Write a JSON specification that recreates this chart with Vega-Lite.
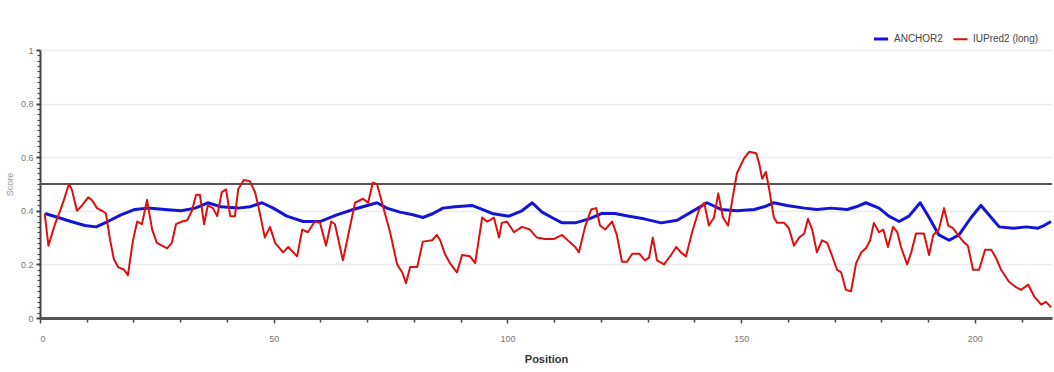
{
  "$schema": "https://vega.github.io/schema/vega-lite/v6.json",
  "width": 1012,
  "height": 268,
  "autosize": {"type": "none"},
  "padding": {"left": 40, "top": 50, "right": 2, "bottom": 54},
  "background": "white",
  "config": {
    "view": {"stroke": null},
    "font": "Liberation Sans"
  },
  "datasets": {
    "scores": [
      {"pos": 1.1, "score": 0.39, "series": "ANCHOR2"},
      {"pos": 3.9, "score": 0.375, "series": "ANCHOR2"},
      {"pos": 6.6, "score": 0.36, "series": "ANCHOR2"},
      {"pos": 9.6, "score": 0.345, "series": "ANCHOR2"},
      {"pos": 12.0, "score": 0.34, "series": "ANCHOR2"},
      {"pos": 14.5, "score": 0.36, "series": "ANCHOR2"},
      {"pos": 17.3, "score": 0.385, "series": "ANCHOR2"},
      {"pos": 20.3, "score": 0.405, "series": "ANCHOR2"},
      {"pos": 23.1, "score": 0.41, "series": "ANCHOR2"},
      {"pos": 26.7, "score": 0.405, "series": "ANCHOR2"},
      {"pos": 30.2, "score": 0.4, "series": "ANCHOR2"},
      {"pos": 33.2, "score": 0.41, "series": "ANCHOR2"},
      {"pos": 35.9, "score": 0.43, "series": "ANCHOR2"},
      {"pos": 38.7, "score": 0.415, "series": "ANCHOR2"},
      {"pos": 42.4, "score": 0.41, "series": "ANCHOR2"},
      {"pos": 44.9, "score": 0.415, "series": "ANCHOR2"},
      {"pos": 47.5, "score": 0.43, "series": "ANCHOR2"},
      {"pos": 49.9, "score": 0.41, "series": "ANCHOR2"},
      {"pos": 52.8, "score": 0.38, "series": "ANCHOR2"},
      {"pos": 56.3, "score": 0.36, "series": "ANCHOR2"},
      {"pos": 59.9, "score": 0.36, "series": "ANCHOR2"},
      {"pos": 63.5, "score": 0.385, "series": "ANCHOR2"},
      {"pos": 67.0, "score": 0.405, "series": "ANCHOR2"},
      {"pos": 70.0, "score": 0.42, "series": "ANCHOR2"},
      {"pos": 72.1, "score": 0.43, "series": "ANCHOR2"},
      {"pos": 74.2, "score": 0.41, "series": "ANCHOR2"},
      {"pos": 77.0, "score": 0.395, "series": "ANCHOR2"},
      {"pos": 79.8, "score": 0.385, "series": "ANCHOR2"},
      {"pos": 81.9, "score": 0.375, "series": "ANCHOR2"},
      {"pos": 84.1, "score": 0.39, "series": "ANCHOR2"},
      {"pos": 86.2, "score": 0.41, "series": "ANCHOR2"},
      {"pos": 88.8, "score": 0.415, "series": "ANCHOR2"},
      {"pos": 92.4, "score": 0.42, "series": "ANCHOR2"},
      {"pos": 94.6, "score": 0.405, "series": "ANCHOR2"},
      {"pos": 96.7, "score": 0.39, "series": "ANCHOR2"},
      {"pos": 100.3, "score": 0.38, "series": "ANCHOR2"},
      {"pos": 103.1, "score": 0.4, "series": "ANCHOR2"},
      {"pos": 105.3, "score": 0.43, "series": "ANCHOR2"},
      {"pos": 107.4, "score": 0.395, "series": "ANCHOR2"},
      {"pos": 109.5, "score": 0.375, "series": "ANCHOR2"},
      {"pos": 111.7, "score": 0.355, "series": "ANCHOR2"},
      {"pos": 114.5, "score": 0.355, "series": "ANCHOR2"},
      {"pos": 117.5, "score": 0.37, "series": "ANCHOR2"},
      {"pos": 120.2, "score": 0.39, "series": "ANCHOR2"},
      {"pos": 123.0, "score": 0.39, "series": "ANCHOR2"},
      {"pos": 126.0, "score": 0.38, "series": "ANCHOR2"},
      {"pos": 129.2, "score": 0.37, "series": "ANCHOR2"},
      {"pos": 132.9, "score": 0.355, "series": "ANCHOR2"},
      {"pos": 136.3, "score": 0.365, "series": "ANCHOR2"},
      {"pos": 139.3, "score": 0.395, "series": "ANCHOR2"},
      {"pos": 142.7, "score": 0.43, "series": "ANCHOR2"},
      {"pos": 145.7, "score": 0.405, "series": "ANCHOR2"},
      {"pos": 149.1, "score": 0.4, "series": "ANCHOR2"},
      {"pos": 152.8, "score": 0.405, "series": "ANCHOR2"},
      {"pos": 154.9, "score": 0.415, "series": "ANCHOR2"},
      {"pos": 157.0, "score": 0.43, "series": "ANCHOR2"},
      {"pos": 159.8, "score": 0.42, "series": "ANCHOR2"},
      {"pos": 163.5, "score": 0.41, "series": "ANCHOR2"},
      {"pos": 166.2, "score": 0.405, "series": "ANCHOR2"},
      {"pos": 169.2, "score": 0.41, "series": "ANCHOR2"},
      {"pos": 172.7, "score": 0.405, "series": "ANCHOR2"},
      {"pos": 174.6, "score": 0.415, "series": "ANCHOR2"},
      {"pos": 176.7, "score": 0.43, "series": "ANCHOR2"},
      {"pos": 179.5, "score": 0.41, "series": "ANCHOR2"},
      {"pos": 181.6, "score": 0.38, "series": "ANCHOR2"},
      {"pos": 183.8, "score": 0.36, "series": "ANCHOR2"},
      {"pos": 185.9, "score": 0.38, "series": "ANCHOR2"},
      {"pos": 188.3, "score": 0.43, "series": "ANCHOR2"},
      {"pos": 190.2, "score": 0.375, "series": "ANCHOR2"},
      {"pos": 192.3, "score": 0.31, "series": "ANCHOR2"},
      {"pos": 194.5, "score": 0.29, "series": "ANCHOR2"},
      {"pos": 196.6, "score": 0.31, "series": "ANCHOR2"},
      {"pos": 199.2, "score": 0.375, "series": "ANCHOR2"},
      {"pos": 201.3, "score": 0.42, "series": "ANCHOR2"},
      {"pos": 203.0, "score": 0.385, "series": "ANCHOR2"},
      {"pos": 205.2, "score": 0.34, "series": "ANCHOR2"},
      {"pos": 208.2, "score": 0.335, "series": "ANCHOR2"},
      {"pos": 211.0, "score": 0.34, "series": "ANCHOR2"},
      {"pos": 213.5, "score": 0.335, "series": "ANCHOR2"},
      {"pos": 214.8, "score": 0.345, "series": "ANCHOR2"},
      {"pos": 216.3, "score": 0.36, "series": "ANCHOR2"},

      {"pos": 1.0, "score": 0.39, "series": "IUPred2 (long)"},
      {"pos": 1.8, "score": 0.27, "series": "IUPred2 (long)"},
      {"pos": 3.2, "score": 0.35, "series": "IUPred2 (long)"},
      {"pos": 4.3, "score": 0.4, "series": "IUPred2 (long)"},
      {"pos": 5.1, "score": 0.44, "series": "IUPred2 (long)"},
      {"pos": 6.2, "score": 0.5, "series": "IUPred2 (long)"},
      {"pos": 6.8, "score": 0.48, "series": "IUPred2 (long)"},
      {"pos": 7.9, "score": 0.4, "series": "IUPred2 (long)"},
      {"pos": 9.0, "score": 0.42, "series": "IUPred2 (long)"},
      {"pos": 10.3, "score": 0.45, "series": "IUPred2 (long)"},
      {"pos": 11.1, "score": 0.44, "series": "IUPred2 (long)"},
      {"pos": 12.2, "score": 0.41, "series": "IUPred2 (long)"},
      {"pos": 13.3, "score": 0.4, "series": "IUPred2 (long)"},
      {"pos": 14.1, "score": 0.39, "series": "IUPred2 (long)"},
      {"pos": 15.0, "score": 0.29, "series": "IUPred2 (long)"},
      {"pos": 15.8, "score": 0.22, "series": "IUPred2 (long)"},
      {"pos": 16.7, "score": 0.19, "series": "IUPred2 (long)"},
      {"pos": 18.0, "score": 0.18, "series": "IUPred2 (long)"},
      {"pos": 18.8, "score": 0.16, "series": "IUPred2 (long)"},
      {"pos": 19.9, "score": 0.29, "series": "IUPred2 (long)"},
      {"pos": 20.8, "score": 0.36, "series": "IUPred2 (long)"},
      {"pos": 21.8, "score": 0.35, "series": "IUPred2 (long)"},
      {"pos": 22.9, "score": 0.44, "series": "IUPred2 (long)"},
      {"pos": 24.0, "score": 0.33, "series": "IUPred2 (long)"},
      {"pos": 25.0, "score": 0.28, "series": "IUPred2 (long)"},
      {"pos": 26.1, "score": 0.27, "series": "IUPred2 (long)"},
      {"pos": 27.2, "score": 0.26, "series": "IUPred2 (long)"},
      {"pos": 28.2, "score": 0.28, "series": "IUPred2 (long)"},
      {"pos": 29.1, "score": 0.35, "series": "IUPred2 (long)"},
      {"pos": 30.4, "score": 0.36, "series": "IUPred2 (long)"},
      {"pos": 31.5, "score": 0.365, "series": "IUPred2 (long)"},
      {"pos": 32.5, "score": 0.4, "series": "IUPred2 (long)"},
      {"pos": 33.4, "score": 0.46, "series": "IUPred2 (long)"},
      {"pos": 34.2, "score": 0.46, "series": "IUPred2 (long)"},
      {"pos": 35.1, "score": 0.35, "series": "IUPred2 (long)"},
      {"pos": 35.9, "score": 0.42, "series": "IUPred2 (long)"},
      {"pos": 37.0, "score": 0.41, "series": "IUPred2 (long)"},
      {"pos": 37.9, "score": 0.38, "series": "IUPred2 (long)"},
      {"pos": 38.9, "score": 0.47, "series": "IUPred2 (long)"},
      {"pos": 39.8, "score": 0.48, "series": "IUPred2 (long)"},
      {"pos": 40.7, "score": 0.38, "series": "IUPred2 (long)"},
      {"pos": 41.7, "score": 0.38, "series": "IUPred2 (long)"},
      {"pos": 42.4, "score": 0.48, "series": "IUPred2 (long)"},
      {"pos": 43.6, "score": 0.515, "series": "IUPred2 (long)"},
      {"pos": 44.9, "score": 0.51, "series": "IUPred2 (long)"},
      {"pos": 46.0, "score": 0.47, "series": "IUPred2 (long)"},
      {"pos": 46.8, "score": 0.41, "series": "IUPred2 (long)"},
      {"pos": 48.1, "score": 0.3, "series": "IUPred2 (long)"},
      {"pos": 49.2, "score": 0.34, "series": "IUPred2 (long)"},
      {"pos": 50.3, "score": 0.28, "series": "IUPred2 (long)"},
      {"pos": 52.0, "score": 0.245, "series": "IUPred2 (long)"},
      {"pos": 53.1, "score": 0.265, "series": "IUPred2 (long)"},
      {"pos": 55.0, "score": 0.23, "series": "IUPred2 (long)"},
      {"pos": 56.1, "score": 0.33, "series": "IUPred2 (long)"},
      {"pos": 57.3, "score": 0.32, "series": "IUPred2 (long)"},
      {"pos": 58.8, "score": 0.36, "series": "IUPred2 (long)"},
      {"pos": 59.9, "score": 0.355, "series": "IUPred2 (long)"},
      {"pos": 61.2, "score": 0.27, "series": "IUPred2 (long)"},
      {"pos": 62.3, "score": 0.36, "series": "IUPred2 (long)"},
      {"pos": 63.1, "score": 0.35, "series": "IUPred2 (long)"},
      {"pos": 64.8, "score": 0.215, "series": "IUPred2 (long)"},
      {"pos": 67.4, "score": 0.43, "series": "IUPred2 (long)"},
      {"pos": 69.1, "score": 0.445, "series": "IUPred2 (long)"},
      {"pos": 70.2, "score": 0.43, "series": "IUPred2 (long)"},
      {"pos": 71.2, "score": 0.505, "series": "IUPred2 (long)"},
      {"pos": 72.1, "score": 0.5, "series": "IUPred2 (long)"},
      {"pos": 73.4, "score": 0.415, "series": "IUPred2 (long)"},
      {"pos": 74.9, "score": 0.32, "series": "IUPred2 (long)"},
      {"pos": 76.4, "score": 0.2, "series": "IUPred2 (long)"},
      {"pos": 77.5, "score": 0.17, "series": "IUPred2 (long)"},
      {"pos": 78.3, "score": 0.13, "series": "IUPred2 (long)"},
      {"pos": 79.2, "score": 0.19, "series": "IUPred2 (long)"},
      {"pos": 80.7, "score": 0.19, "series": "IUPred2 (long)"},
      {"pos": 81.9, "score": 0.285, "series": "IUPred2 (long)"},
      {"pos": 83.9, "score": 0.29, "series": "IUPred2 (long)"},
      {"pos": 84.9, "score": 0.31, "series": "IUPred2 (long)"},
      {"pos": 85.6, "score": 0.29, "series": "IUPred2 (long)"},
      {"pos": 86.6, "score": 0.24, "series": "IUPred2 (long)"},
      {"pos": 87.7, "score": 0.205, "series": "IUPred2 (long)"},
      {"pos": 89.2, "score": 0.17, "series": "IUPred2 (long)"},
      {"pos": 90.3, "score": 0.235, "series": "IUPred2 (long)"},
      {"pos": 92.0, "score": 0.23, "series": "IUPred2 (long)"},
      {"pos": 93.1, "score": 0.205, "series": "IUPred2 (long)"},
      {"pos": 94.6, "score": 0.375, "series": "IUPred2 (long)"},
      {"pos": 95.6, "score": 0.36, "series": "IUPred2 (long)"},
      {"pos": 96.3, "score": 0.365, "series": "IUPred2 (long)"},
      {"pos": 97.1, "score": 0.375, "series": "IUPred2 (long)"},
      {"pos": 98.2, "score": 0.3, "series": "IUPred2 (long)"},
      {"pos": 98.8, "score": 0.355, "series": "IUPred2 (long)"},
      {"pos": 99.9, "score": 0.36, "series": "IUPred2 (long)"},
      {"pos": 101.4, "score": 0.32, "series": "IUPred2 (long)"},
      {"pos": 103.1, "score": 0.34, "series": "IUPred2 (long)"},
      {"pos": 104.8, "score": 0.33, "series": "IUPred2 (long)"},
      {"pos": 106.3, "score": 0.3, "series": "IUPred2 (long)"},
      {"pos": 108.0, "score": 0.295, "series": "IUPred2 (long)"},
      {"pos": 110.0, "score": 0.295, "series": "IUPred2 (long)"},
      {"pos": 111.7, "score": 0.31, "series": "IUPred2 (long)"},
      {"pos": 113.2, "score": 0.285, "series": "IUPred2 (long)"},
      {"pos": 114.5, "score": 0.265, "series": "IUPred2 (long)"},
      {"pos": 115.3, "score": 0.245, "series": "IUPred2 (long)"},
      {"pos": 116.6, "score": 0.34, "series": "IUPred2 (long)"},
      {"pos": 117.9, "score": 0.405, "series": "IUPred2 (long)"},
      {"pos": 119.0, "score": 0.41, "series": "IUPred2 (long)"},
      {"pos": 119.8, "score": 0.345, "series": "IUPred2 (long)"},
      {"pos": 120.9, "score": 0.33, "series": "IUPred2 (long)"},
      {"pos": 122.4, "score": 0.36, "series": "IUPred2 (long)"},
      {"pos": 123.4, "score": 0.31, "series": "IUPred2 (long)"},
      {"pos": 124.5, "score": 0.21, "series": "IUPred2 (long)"},
      {"pos": 125.6, "score": 0.21, "series": "IUPred2 (long)"},
      {"pos": 126.7, "score": 0.24, "series": "IUPred2 (long)"},
      {"pos": 128.2, "score": 0.24, "series": "IUPred2 (long)"},
      {"pos": 129.4, "score": 0.215, "series": "IUPred2 (long)"},
      {"pos": 130.3, "score": 0.225, "series": "IUPred2 (long)"},
      {"pos": 131.1, "score": 0.3, "series": "IUPred2 (long)"},
      {"pos": 132.0, "score": 0.215, "series": "IUPred2 (long)"},
      {"pos": 133.5, "score": 0.2, "series": "IUPred2 (long)"},
      {"pos": 135.0, "score": 0.235, "series": "IUPred2 (long)"},
      {"pos": 136.1, "score": 0.265, "series": "IUPred2 (long)"},
      {"pos": 137.1, "score": 0.245, "series": "IUPred2 (long)"},
      {"pos": 138.2, "score": 0.23, "series": "IUPred2 (long)"},
      {"pos": 139.5, "score": 0.32, "series": "IUPred2 (long)"},
      {"pos": 141.0, "score": 0.405, "series": "IUPred2 (long)"},
      {"pos": 142.1, "score": 0.43, "series": "IUPred2 (long)"},
      {"pos": 143.1, "score": 0.345, "series": "IUPred2 (long)"},
      {"pos": 144.2, "score": 0.375, "series": "IUPred2 (long)"},
      {"pos": 145.1, "score": 0.465, "series": "IUPred2 (long)"},
      {"pos": 146.1, "score": 0.375, "series": "IUPred2 (long)"},
      {"pos": 147.2, "score": 0.345, "series": "IUPred2 (long)"},
      {"pos": 148.1, "score": 0.44, "series": "IUPred2 (long)"},
      {"pos": 149.1, "score": 0.54, "series": "IUPred2 (long)"},
      {"pos": 150.6, "score": 0.595, "series": "IUPred2 (long)"},
      {"pos": 151.7, "score": 0.62, "series": "IUPred2 (long)"},
      {"pos": 153.2, "score": 0.615, "series": "IUPred2 (long)"},
      {"pos": 153.8, "score": 0.58, "series": "IUPred2 (long)"},
      {"pos": 154.5, "score": 0.52, "series": "IUPred2 (long)"},
      {"pos": 155.3, "score": 0.545, "series": "IUPred2 (long)"},
      {"pos": 156.0, "score": 0.48, "series": "IUPred2 (long)"},
      {"pos": 157.0, "score": 0.375, "series": "IUPred2 (long)"},
      {"pos": 157.7, "score": 0.355, "series": "IUPred2 (long)"},
      {"pos": 159.2, "score": 0.355, "series": "IUPred2 (long)"},
      {"pos": 160.2, "score": 0.335, "series": "IUPred2 (long)"},
      {"pos": 161.3, "score": 0.27, "series": "IUPred2 (long)"},
      {"pos": 162.4, "score": 0.3, "series": "IUPred2 (long)"},
      {"pos": 163.5, "score": 0.315, "series": "IUPred2 (long)"},
      {"pos": 164.3, "score": 0.37, "series": "IUPred2 (long)"},
      {"pos": 165.2, "score": 0.33, "series": "IUPred2 (long)"},
      {"pos": 166.2, "score": 0.245, "series": "IUPred2 (long)"},
      {"pos": 167.3, "score": 0.29, "series": "IUPred2 (long)"},
      {"pos": 168.4, "score": 0.28, "series": "IUPred2 (long)"},
      {"pos": 169.4, "score": 0.235, "series": "IUPred2 (long)"},
      {"pos": 170.5, "score": 0.18, "series": "IUPred2 (long)"},
      {"pos": 171.4, "score": 0.17, "series": "IUPred2 (long)"},
      {"pos": 172.4, "score": 0.105, "series": "IUPred2 (long)"},
      {"pos": 173.5, "score": 0.1, "series": "IUPred2 (long)"},
      {"pos": 174.6, "score": 0.205, "series": "IUPred2 (long)"},
      {"pos": 175.7, "score": 0.245, "series": "IUPred2 (long)"},
      {"pos": 176.7, "score": 0.26, "series": "IUPred2 (long)"},
      {"pos": 177.6, "score": 0.29, "series": "IUPred2 (long)"},
      {"pos": 178.4, "score": 0.355, "series": "IUPred2 (long)"},
      {"pos": 179.5, "score": 0.32, "series": "IUPred2 (long)"},
      {"pos": 180.4, "score": 0.33, "series": "IUPred2 (long)"},
      {"pos": 181.4, "score": 0.265, "series": "IUPred2 (long)"},
      {"pos": 182.5, "score": 0.34, "series": "IUPred2 (long)"},
      {"pos": 183.4, "score": 0.32, "series": "IUPred2 (long)"},
      {"pos": 184.2, "score": 0.265, "series": "IUPred2 (long)"},
      {"pos": 185.5, "score": 0.2, "series": "IUPred2 (long)"},
      {"pos": 186.4, "score": 0.245, "series": "IUPred2 (long)"},
      {"pos": 187.4, "score": 0.315, "series": "IUPred2 (long)"},
      {"pos": 189.1, "score": 0.315, "series": "IUPred2 (long)"},
      {"pos": 190.2, "score": 0.235, "series": "IUPred2 (long)"},
      {"pos": 191.1, "score": 0.31, "series": "IUPred2 (long)"},
      {"pos": 192.3, "score": 0.33, "series": "IUPred2 (long)"},
      {"pos": 193.4, "score": 0.41, "series": "IUPred2 (long)"},
      {"pos": 194.3, "score": 0.345, "series": "IUPred2 (long)"},
      {"pos": 195.3, "score": 0.335, "series": "IUPred2 (long)"},
      {"pos": 196.4, "score": 0.31, "series": "IUPred2 (long)"},
      {"pos": 197.5, "score": 0.285, "series": "IUPred2 (long)"},
      {"pos": 198.5, "score": 0.27, "series": "IUPred2 (long)"},
      {"pos": 199.6, "score": 0.18, "series": "IUPred2 (long)"},
      {"pos": 200.9, "score": 0.18, "series": "IUPred2 (long)"},
      {"pos": 202.2, "score": 0.255, "series": "IUPred2 (long)"},
      {"pos": 203.5, "score": 0.255, "series": "IUPred2 (long)"},
      {"pos": 204.5, "score": 0.225, "series": "IUPred2 (long)"},
      {"pos": 205.6, "score": 0.18, "series": "IUPred2 (long)"},
      {"pos": 207.3, "score": 0.135, "series": "IUPred2 (long)"},
      {"pos": 208.8, "score": 0.115, "series": "IUPred2 (long)"},
      {"pos": 209.9, "score": 0.105, "series": "IUPred2 (long)"},
      {"pos": 211.4, "score": 0.125, "series": "IUPred2 (long)"},
      {"pos": 212.7, "score": 0.08, "series": "IUPred2 (long)"},
      {"pos": 214.2, "score": 0.05, "series": "IUPred2 (long)"},
      {"pos": 215.2, "score": 0.06, "series": "IUPred2 (long)"},
      {"pos": 216.3, "score": 0.04, "series": "IUPred2 (long)"}
    ]
  },
  "data": {"name": "scores"},
  "resolve": {"axis": {"x": "independent", "y": "independent"}},
  "layer": [
    {
      "mark": {"type": "line", "opacity": 0},
      "encoding": {
        "x": {
          "field": "pos", "type": "quantitative",
          "scale": {"domain": [0, 216.5], "nice": false, "zero": false},
          "axis": {
            "orient": "bottom", "values": [10, 20, 30, 40, 60, 70, 80, 90, 110, 120, 130, 140, 160, 170, 180, 190, 210],
            "labels": false, "domain": false, "grid": false, "title": null,
            "tickColor": "#444", "tickSize": 4, "tickWidth": 1.5
          }
        },
        "y": {
          "field": "score", "type": "quantitative",
          "scale": {"domain": [0, 1], "nice": false},
          "axis": {
            "orient": "left",
            "values": [0.02, 0.04, 0.06, 0.08, 0.1, 0.12, 0.14, 0.16, 0.18, 0.22, 0.24, 0.26, 0.28, 0.3, 0.32, 0.34, 0.36, 0.38, 0.42, 0.44, 0.46, 0.48, 0.5, 0.52, 0.54, 0.56, 0.58, 0.62, 0.64, 0.66, 0.68, 0.7, 0.72, 0.74, 0.76, 0.78, 0.82, 0.84, 0.86, 0.88, 0.9, 0.92, 0.94, 0.96, 0.98],
            "labels": false, "domain": false, "grid": false, "title": null,
            "tickColor": "#444", "tickSize": 3, "tickWidth": 1.2
          }
        },
        "detail": {"field": "series"}
      }
    },
    {
      "mark": {"type": "rule", "color": "#555555", "strokeWidth": 2},
      "encoding": {
        "y": {"datum": 0.5, "axis": null}
      }
    },
    {
      "mark": {"type": "line", "interpolate": "linear", "strokeJoin": "round"},
      "encoding": {
        "x": {
          "field": "pos", "type": "quantitative",
          "scale": {"domain": [0, 216.5], "nice": false, "zero": false},
          "axis": {
            "orient": "bottom", "values": [0, 50, 100, 150, 200],
            "title": "Position", "titleFontSize": 11, "titleFontWeight": "bold", "titleColor": "#333",
            "titlePadding": 10,
            "labelColor": "#777", "labelFontSize": 9, "labelPadding": 11,
            "domainColor": "#555", "domainWidth": 3,
            "tickColor": "#444", "tickSize": 5, "tickWidth": 1.5, "grid": false
          }
        },
        "y": {
          "field": "score", "type": "quantitative",
          "scale": {"domain": [0, 1], "nice": false},
          "axis": {
            "orient": "left", "values": [0, 0.2, 0.4, 0.6, 0.8, 1], "format": "~g",
            "title": "Score", "titleFontSize": 9, "titleColor": "#999", "titleFontWeight": "normal",
            "titlePadding": 6,
            "labelColor": "#777", "labelFontSize": 9, "labelPadding": 3,
            "domainColor": "#444", "domainWidth": 2,
            "tickColor": "#444", "tickSize": 4, "tickWidth": 2,
            "grid": true, "gridColor": "#ececec", "gridWidth": 1.5
          }
        },
        "color": {
          "field": "series", "type": "nominal",
          "scale": {"domain": ["ANCHOR2", "IUPred2 (long)"], "range": ["#1414d4", "#dc1010"]},
          "legend": {
            "title": null, "orient": "none", "direction": "horizontal",
            "legendX": 832, "legendY": -20,
            "symbolType": "stroke", "symbolSize": 200, "symbolStrokeWidth": 3,
            "labelFontSize": 10, "labelColor": "#444", "columnPadding": 6, "labelOffset": 4
          }
        },
        "strokeWidth": {
          "field": "series", "type": "nominal",
          "scale": {"domain": ["ANCHOR2", "IUPred2 (long)"], "range": [3, 2]},
          "legend": null
        }
      }
    }
  ]
}
